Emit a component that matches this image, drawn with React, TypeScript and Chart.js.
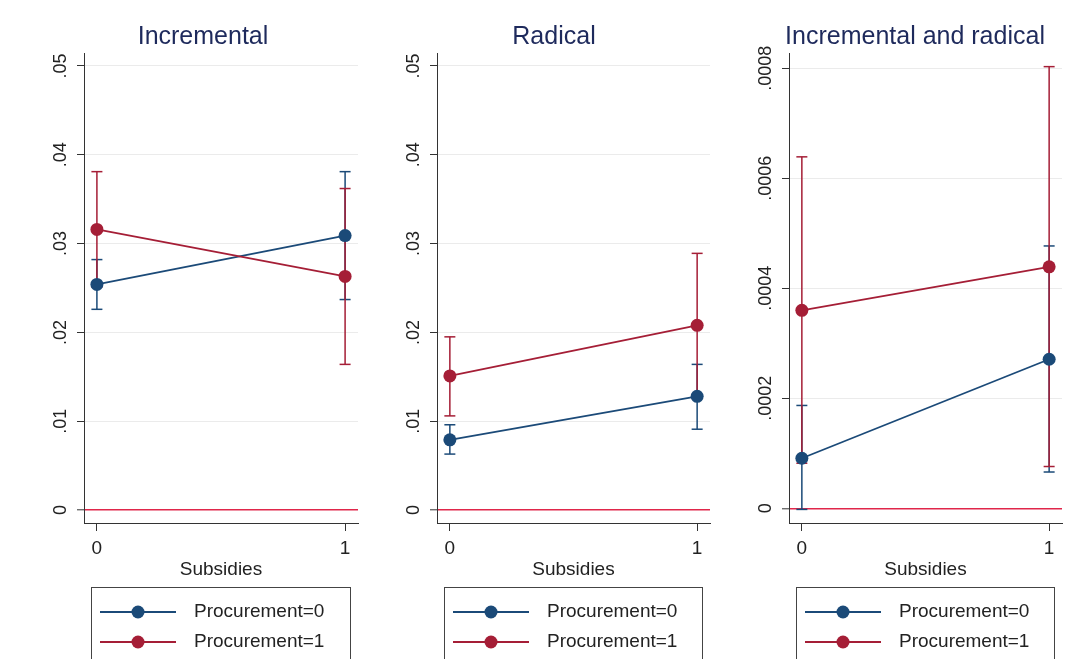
import React, { useEffect, useRef } from "react";
import { Chart, registerables } from "chart.js";

Chart.register(...registerables);

// ---------- data ----------
const subsidies = [0, 1];
const xTickLabels = ["0", "1"];
const xTitle = "Subsidies";
const seriesLabels = ["Procurement=0", "Procurement=1"];
const panelTitles = ["Incremental", "Radical", "Incremental and radical"];

const smallYTicks = [0, 0.01, 0.02, 0.03, 0.04, 0.05];
const smallYTickLabels = ["0", ".01", ".02", ".03", ".04", ".05"];
const tinyYTicks = [0, 0.0002, 0.0004, 0.0006, 0.0008];
const tinyYTickLabels = ["0", ".0002", ".0004", ".0006", ".0008"];

// Incremental
const incP0 = [0.0254, 0.0309];
const incP0Low = [0.0226, 0.0237];
const incP0High = [0.0282, 0.0381];
const incP1 = [0.0316, 0.0263];
const incP1Low = [0.0251, 0.0164];
const incP1High = [0.0381, 0.0362];

// Radical
const radP0 = [0.0079, 0.0128];
const radP0Low = [0.0063, 0.0091];
const radP0High = [0.0096, 0.0164];
const radP1 = [0.0151, 0.0208];
const radP1Low = [0.0106, 0.0126];
const radP1High = [0.0195, 0.0289];

// Incremental and radical
const bothP0 = [0.000091, 0.000271];
const bothP0Low = [-0.000002, 0.000066];
const bothP0High = [0.000187, 0.000477];
const bothP1 = [0.00036, 0.000439];
const bothP1Low = [0.000082, 0.000076];
const bothP1High = [0.000639, 0.000803];

// ---------- styles ----------
const FONT = '"Liberation Sans", Arial, Helvetica, sans-serif';
const BLUE = "#1b4a78";
const RED = "#a51e36";
const ZERO_RED = "#e0264a";
const GRID = "#ebebeb";
const AXIS = "#333333";
const TEXT = "#222222";
const TITLE = "#1e2a5c";

Chart.defaults.font.family = FONT;

type PanelProps = {
  title: string;
  titleX: number;
  left: number;
  width: number;
  p0: number[];
  p0Low: number[];
  p0High: number[];
  p1: number[];
  p1Low: number[];
  p1High: number[];
  yTicks: number[];
  yTickLabels: string[];
  yMin: number;
  yMax: number;
};

function measure(text: string, font: string) {
  const c = document.createElement("canvas").getContext("2d")!;
  c.font = font;
  return c.measureText(text).width;
}

function ciData(lo: number[], hi: number[]) {
  const out: any[] = [];
  subsidies.forEach((x, i) => {
    out.push({ x, y: lo[i] });
    out.push({ x, y: hi[i] });
    out.push({ x, y: null });
  });
  return out;
}

function Panel(props: PanelProps) {
  const ref = useRef<HTMLCanvasElement | null>(null);
  useEffect(() => {
    if (!ref.current) return;
    const yFontSize = 18;
    const widest = Math.max(
      ...props.yTickLabels.map((l) => measure(l, `${yFontSize}px ${FONT}`))
    );
    const yPad = 22.5 - 7 - widest / 2;

    const titlePlugin = {
      id: "panelTitle",
      afterDraw(chart: any) {
        const ctx = chart.ctx;
        ctx.save();
        ctx.font = `25px ${FONT}`;
        ctx.fillStyle = TITLE;
        ctx.textAlign = "center";
        ctx.textBaseline = "alphabetic";
        ctx.fillText(props.title, props.titleX, 44);
        ctx.restore();
      },
    };

    const legendItems = [
      { text: seriesLabels[0], color: BLUE },
      { text: seriesLabels[1], color: RED },
    ];
    const legendPlugin = {
      id: "boxLegend",
      afterDraw(chart: any) {
        const { ctx, chartArea } = chart;
        const l = Math.round(chartArea.left + 7);
        const r = Math.round(chartArea.right - 8);
        const top = 587;
        ctx.save();
        ctx.strokeStyle = "#444";
        ctx.lineWidth = 1;
        ctx.strokeRect(l + 0.5, top + 0.5, r - l, 120);
        legendItems.forEach((it, i) => {
          const y = top + 25 + i * 30;
          ctx.strokeStyle = it.color;
          ctx.lineWidth = 1.8;
          ctx.beginPath();
          ctx.moveTo(l + 9, y);
          ctx.lineTo(l + 85, y);
          ctx.stroke();
          ctx.fillStyle = it.color;
          ctx.beginPath();
          ctx.arc(l + 47, y, 6.5, 0, Math.PI * 2);
          ctx.fill();
          ctx.fillStyle = TEXT;
          ctx.font = `19px ${FONT}`;
          ctx.textAlign = "left";
          ctx.textBaseline = "middle";
          ctx.fillText(it.text, l + 103, y);
        });
        ctx.restore();
      },
    };

    const lineDs = (label: string, vals: number[], color: string) => ({
      label,
      data: subsidies.map((x, i) => ({ x, y: vals[i] })),
      borderColor: color,
      backgroundColor: color,
      borderWidth: 1.8,
      pointRadius: 6.5,
      pointBorderWidth: 0,
      pointBackgroundColor: color,
      showLine: true,
    });
    const ciDs = (label: string, lo: number[], hi: number[], color: string) => ({
      label,
      data: ciData(lo, hi),
      borderColor: color,
      backgroundColor: color,
      borderWidth: 1.5,
      pointStyle: "line",
      pointRadius: 5.5,
      pointBorderWidth: 1.5,
      pointBorderColor: color,
      showLine: true,
      spanGaps: false,
    });

    const chart = new Chart(ref.current, {
      type: "line",
      data: {
        datasets: [
          lineDs(seriesLabels[1], props.p1, RED),
          lineDs(seriesLabels[0], props.p0, BLUE),
          ciDs(seriesLabels[1] + " CI", props.p1Low, props.p1High, RED),
          ciDs(seriesLabels[0] + " CI", props.p0Low, props.p0High, BLUE),
        ] as any,
      },
      options: {
        animation: false,
        responsive: false,
        layout: { padding: { top: 53, right: 8, bottom: 78, left: 0 } },
        plugins: {
          legend: { display: false },
          tooltip: { enabled: false },
          title: { display: false },
        },
        scales: {
          x: {
            type: "linear",
            min: -0.052,
            max: 1.052,
            afterBuildTicks: (s: any) => {
              s.ticks = subsidies.map((v) => ({ value: v }));
            },
            afterFit: (s: any) => {
              s.height = 58;
            },
            ticks: {
              callback: (_v: any, i: number) => xTickLabels[i],
              font: { size: 19 },
              color: TEXT,
              padding: 6,
              maxRotation: 0,
              minRotation: 0,
              autoSkip: false,
            },
            grid: {
              drawOnChartArea: false,
              drawTicks: true,
              tickLength: 8,
              tickColor: AXIS,
              tickWidth: 1,
            },
            border: { display: true, color: AXIS, width: 1 },
            title: {
              display: true,
              text: xTitle,
              font: { size: 19 },
              color: TEXT,
              padding: { top: 0, bottom: 0 },
            },
          },
          y: {
            type: "linear",
            min: props.yMin,
            max: props.yMax,
            afterBuildTicks: (s: any) => {
              s.ticks = props.yTicks.map((v) => ({ value: v }));
            },
            afterFit: (s: any) => {
              s.width = 44;
            },
            ticks: {
              callback: (_v: any, i: number) => props.yTickLabels[i],
              font: { size: yFontSize },
              color: TEXT,
              minRotation: 90,
              maxRotation: 90,
              crossAlign: "center",
              padding: yPad,
              autoSkip: false,
            },
            grid: {
              color: (c: any) => (c.tick && c.tick.value === 0 ? ZERO_RED : GRID),
              lineWidth: (c: any) => (c.tick && c.tick.value === 0 ? 1.6 : 1),
              drawTicks: true,
              tickLength: 7,
              tickColor: AXIS,
              tickWidth: 1,
            },
            border: { display: true, color: AXIS, width: 1 },
          },
        },
      } as any,
      plugins: [titlePlugin, legendPlugin],
    });
    return () => chart.destroy();
  }, []);

  return (
    <canvas
      ref={ref}
      width={props.width}
      height={659}
      style={{
        position: "absolute",
        left: props.left,
        top: 0,
        width: props.width,
        height: 659,
      }}
    />
  );
}

export default function App() {
  return (
    <div
      style={{
        position: "absolute",
        left: 0,
        top: 0,
        width: 1086,
        height: 659,
        background: "#ffffff",
        overflow: "hidden",
      }}
    >
      <Panel
        title={panelTitles[0]}
        titleX={163}
        left={40}
        width={326}
        p0={incP0}
        p0Low={incP0Low}
        p0High={incP0High}
        p1={incP1}
        p1Low={incP1Low}
        p1High={incP1High}
        yTicks={smallYTicks}
        yTickLabels={smallYTickLabels}
        yMin={-0.00146}
        yMax={0.05146}
      />
      <Panel
        title={panelTitles[1]}
        titleX={161}
        left={393}
        width={325}
        p0={radP0}
        p0Low={radP0Low}
        p0High={radP0High}
        p1={radP1}
        p1Low={radP1Low}
        p1High={radP1High}
        yTicks={smallYTicks}
        yTickLabels={smallYTickLabels}
        yMin={-0.00146}
        yMax={0.05146}
      />
      <Panel
        title={panelTitles[2]}
        titleX={170}
        left={745}
        width={325}
        p0={bothP0}
        p0Low={bothP0Low}
        p0High={bothP0High}
        p1={bothP1}
        p1Low={bothP1Low}
        p1High={bothP1High}
        yTicks={tinyYTicks}
        yTickLabels={tinyYTickLabels}
        yMin={-0.0000267}
        yMax={0.0008278}
      />
    </div>
  );
}
